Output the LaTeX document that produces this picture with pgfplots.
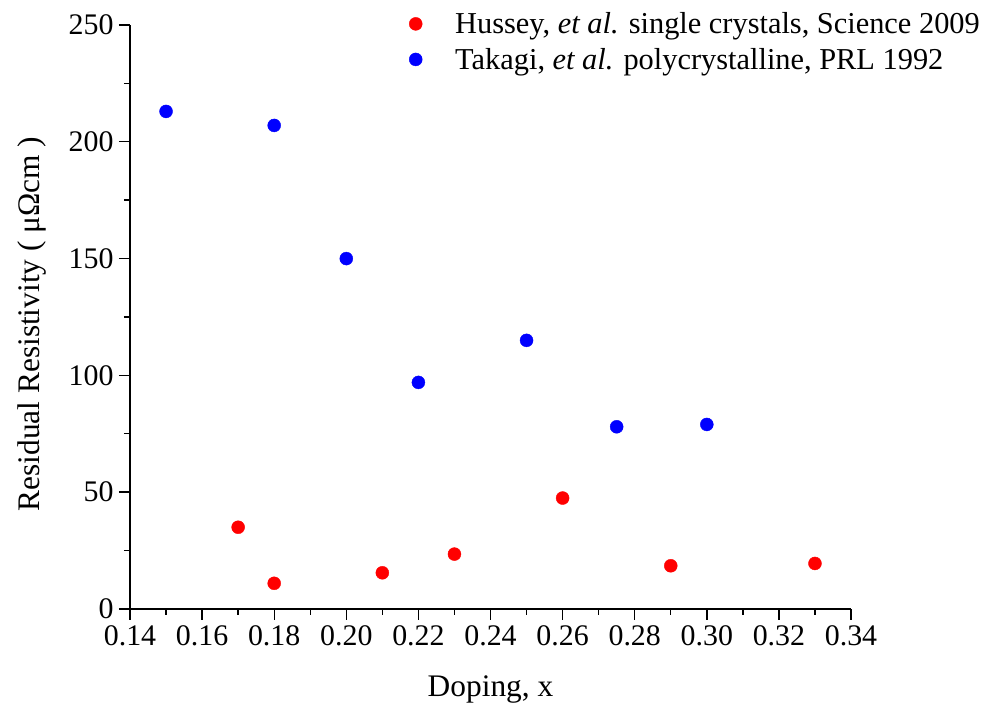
\documentclass[border=0pt]{standalone}
\usepackage{fontspec}
\setmainfont{Liberation Serif}
\usepackage{pgfplots}
\pgfplotsset{compat=1.18}
\definecolor{myred}{RGB}{255,0,0}
\definecolor{myblue}{RGB}{0,0,255}
\begin{document}
\begin{tikzpicture}[x=1bp,y=1bp]
\useasboundingbox (-130,-105) rectangle (857,609);
\begin{axis}[at={(0,0)}, anchor=south west, scale only axis,
  width=721bp, height=584bp,
  xmin=0.14, xmax=0.34, ymin=0, ymax=250,
  axis x line*=bottom, axis y line*=left,
  axis line style={-, line width=1.4bp, black},
  xtick={0.14,0.16,0.18,0.20,0.22,0.24,0.26,0.28,0.30,0.32,0.34},
  ytick={0,50,100,150,200,250},
  minor x tick num=1, minor y tick num=1,
  tick align=outside, major tick length=11bp, minor tick length=6bp,
  tick style={black, line width=1.4bp},
  x tick label style={/pgf/number format/.cd, fixed, fixed zerofill, precision=2, /tikz/.cd},
  /pgf/number format/assume math mode=true,
  tick label style={font=\fontsize{30}{30}\selectfont},
  xticklabel style={yshift=-2bp},
  yticklabel style={xshift=-2bp},
  xlabel={Doping, x},
  ylabel={Residual Resistivity ( μΩcm )},
  label style={font=\fontsize{31.5}{31.5}\selectfont},
  xlabel style={at={(axis description cs:0.5,0)}, anchor=center, yshift=-80bp},
  ylabel style={at={(axis description cs:-0.136,0.488)}, anchor=center},
  legend style={at={(axis description cs:0.387,1.025)}, anchor=north west, draw=none, fill=none,
    font=\fontsize{30.5}{30.5}\selectfont, row sep=9bp, column sep=31bp, inner sep=0pt},
  legend cell align=left,
  clip=false,
]
\addplot[only marks, mark=*, mark size=6.5bp, myred, mark options={draw=none, fill=myred}] coordinates {
(0.17,35) (0.18,11) (0.21,15.5) (0.23,23.5) (0.26,47.5) (0.29,18.5) (0.33,19.5)
};
\addlegendentry{Hussey, \textit{et al.} single crystals, Science 2009}
\addplot[only marks, mark=*, mark size=6.5bp, myblue, mark options={draw=none, fill=myblue}] coordinates {
(0.15,213) (0.18,207) (0.20,150) (0.22,97) (0.25,115) (0.275,78) (0.30,79)
};
\addlegendentry{Takagi, \textit{et al.} polycrystalline, PRL 1992}
\end{axis}
\end{tikzpicture}
\end{document}
